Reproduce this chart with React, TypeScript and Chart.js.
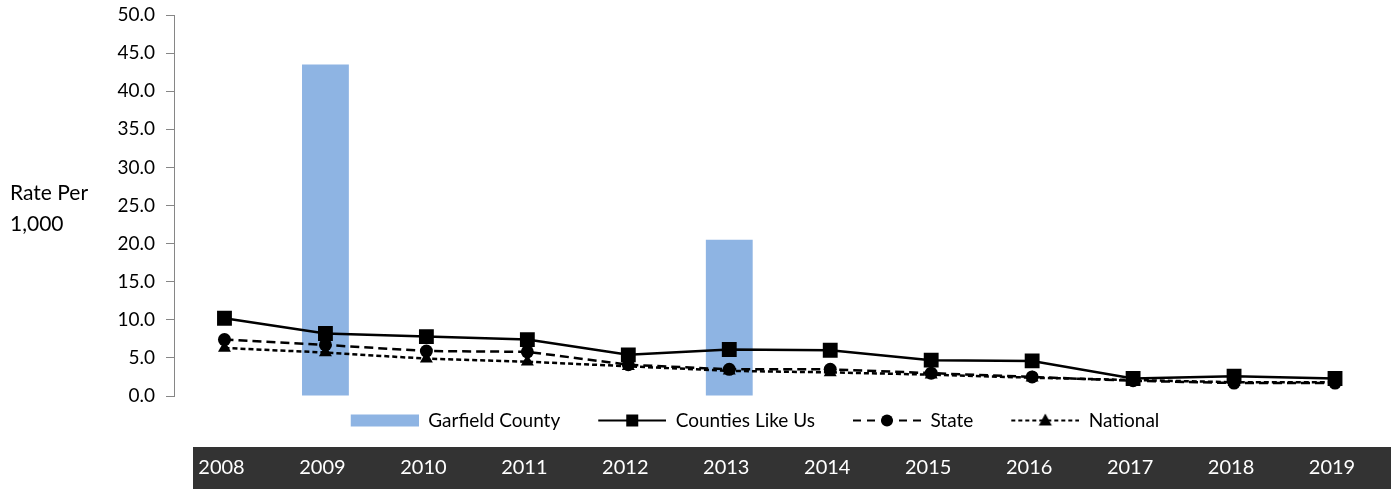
import React, { useEffect, useRef } from "react";
import { Chart, registerables } from "chart.js";

Chart.register(...registerables);

const years = ["2008", "2009", "2010", "2011", "2012", "2013", "2014", "2015", "2016", "2017", "2018", "2019"];
const garfieldCounty = [null, 43.5, null, null, null, 20.5, null, null, null, null, null, null];
const countiesLikeUs = [10.2, 8.2, 7.8, 7.4, 5.4, 6.1, 6.0, 4.7, 4.6, 2.3, 2.6, 2.3];
const stateRate = [7.4, 6.7, 5.9, 5.8, 4.1, 3.5, 3.5, 3.0, 2.5, 2.0, 1.7, 1.7];
const nationalRate = [6.3, 5.7, 4.9, 4.5, 3.9, 3.3, 3.1, 2.8, 2.4, 2.1, 1.8, 1.8];
const yTicks = [0, 5, 10, 15, 20, 25, 30, 35, 40, 45, 50];
const yTitleLines = ["Rate Per", "1,000"];

const FONT = "Lato, 'Open Sans', sans-serif";
const BAR_COLOR = "#8EB4E3";
const AXIS_COLOR = "#868686";
const BAND_COLOR = "#333333";

function legendSymbol(kind: string): HTMLCanvasElement {
  const c = document.createElement("canvas");
  const W = 91, H = 19, lead = 23, sw = 68;
  c.width = W; c.height = H;
  const ctx = c.getContext("2d")!;
  const cy = H / 2;
  const x0 = lead, x1 = lead + sw, cx = lead + sw / 2;
  if (kind === "bar") {
    ctx.fillStyle = BAR_COLOR;
    ctx.fillRect(x0, cy - 6, sw, 12);
    return c;
  }
  ctx.strokeStyle = "#000";
  ctx.fillStyle = "#000";
  ctx.lineWidth = 2;
  if (kind === "state") ctx.setLineDash([8, 6]);
  if (kind === "national") ctx.setLineDash([4, 3]);
  ctx.beginPath();
  ctx.moveTo(x0, cy); ctx.lineTo(cx, cy);
  ctx.stroke();
  ctx.beginPath();
  ctx.moveTo(x1, cy); ctx.lineTo(cx, cy);
  ctx.stroke();
  ctx.setLineDash([]);
  ctx.beginPath();
  if (kind === "counties") {
    ctx.rect(cx - 6, cy - 6, 12, 12);
  } else if (kind === "state") {
    ctx.arc(cx, cy, 6, 0, Math.PI * 2);
  } else {
    ctx.moveTo(cx, cy - 7);
    ctx.lineTo(cx + 6.5, cy + 5);
    ctx.lineTo(cx - 6.5, cy + 5);
    ctx.closePath();
  }
  ctx.fill();
  return c;
}

const decorPlugin = {
  id: "decor",
  afterDraw(chart: any) {
    const ctx = chart.ctx;
    const xs = chart.scales.x;
    ctx.save();
    // y axis title
    ctx.fillStyle = "#000";
    ctx.font = `21px ${FONT}`;
    ctx.textAlign = "left";
    ctx.textBaseline = "middle";
    ctx.fillText(yTitleLines[0], 10, 193);
    ctx.fillText(yTitleLines[1], 10, 224);
    // band with year labels
    ctx.fillStyle = BAND_COLOR;
    ctx.fillRect(193, 447, chart.width - 5 - 193, chart.height - 447);
    ctx.fillStyle = "#ffffff";
    ctx.font = `20px ${FONT}`;
    ctx.textAlign = "center";
    years.forEach((y, i) => {
      ctx.fillText(y, xs.getPixelForValue(i) - 3, 468);
    });
    ctx.restore();
  },
};

export default function App() {
  const ref = useRef<HTMLCanvasElement | null>(null);
  useEffect(() => {
    if (!ref.current) return;
    const symbols = {
      bar: legendSymbol("bar"),
      counties: legendSymbol("counties"),
      state: legendSymbol("state"),
      national: legendSymbol("national"),
    };
    const chart = new Chart(ref.current, {
      type: "bar",
      data: {
        labels: years,
        datasets: [
          {
            type: "bar",
            label: "Garfield County",
            data: garfieldCounty as any,
            backgroundColor: BAR_COLOR,
            barPercentage: 0.464,
            categoryPercentage: 1,
            order: 4,
          },
          {
            type: "line",
            label: "Counties Like Us",
            data: countiesLikeUs,
            borderColor: "#000",
            backgroundColor: "#000",
            borderWidth: 2.5,
            pointStyle: "rect",
            pointRadius: 10.5,
            pointBorderWidth: 0,
            pointBackgroundColor: "#000",
            tension: 0,
            order: 1,
          },
          {
            type: "line",
            label: "State",
            data: stateRate,
            borderColor: "#000",
            backgroundColor: "#000",
            borderWidth: 2.5,
            borderDash: [9, 5],
            pointStyle: "circle",
            pointRadius: 6.5,
            pointBorderWidth: 0,
            pointBackgroundColor: "#000",
            tension: 0,
            order: 2,
          },
          {
            type: "line",
            label: "National",
            data: nationalRate,
            borderColor: "#000",
            backgroundColor: "#000",
            borderWidth: 2.5,
            borderDash: [5, 3],
            pointStyle: "triangle",
            pointRadius: 7.5,
            pointBorderWidth: 0,
            pointBackgroundColor: "#000",
            tension: 0,
            order: 3,
          },
        ],
      },
      options: {
        animation: false,
        responsive: true,
        maintainAspectRatio: false,
        events: [],
        layout: { padding: { left: 98, right: 7, top: 15, bottom: 49 } },
        scales: {
          x: {
            display: false,
            offset: true,
            grid: { offset: true },
          },
          y: {
            min: 0,
            max: 50,
            afterBuildTicks: (scale: any) => {
              scale.ticks = yTicks.map((v) => ({ value: v }));
            },
            afterFit: (scale: any) => {
              scale.width = 76;
              scale.paddingTop = 0;
              scale.paddingBottom = 0;
            },
            ticks: {
              callback: (v: any) => Number(v).toFixed(1),
              color: "#000",
              font: { family: FONT, size: 19 },
              padding: 11,
            },
            grid: {
              drawOnChartArea: false,
              drawTicks: true,
              tickLength: 8,
              color: AXIS_COLOR,
              lineWidth: 1,
            },
            border: { display: true, color: AXIS_COLOR, width: 1 },
          },
        },
        plugins: {
          tooltip: { enabled: false },
          legend: {
            position: "bottom",
            align: "center",
            labels: {
              usePointStyle: true,
              pointStyleWidth: 91,
              boxHeight: 19,
              padding: 15,
              color: "#000",
              font: { family: FONT, size: 19 },
              generateLabels: () => [
                { text: "Garfield County", pointStyle: symbols.bar, fillStyle: BAR_COLOR, strokeStyle: BAR_COLOR, lineWidth: 0, hidden: false, datasetIndex: 0 },
                { text: "Counties Like Us", pointStyle: symbols.counties, fillStyle: "#000", strokeStyle: "#000", lineWidth: 0, hidden: false, datasetIndex: 1 },
                { text: "State", pointStyle: symbols.state, fillStyle: "#000", strokeStyle: "#000", lineWidth: 0, hidden: false, datasetIndex: 2 },
                { text: "National", pointStyle: symbols.national, fillStyle: "#000", strokeStyle: "#000", lineWidth: 0, hidden: false, datasetIndex: 3 },
              ] as any,
            },
          },
        },
      },
      plugins: [decorPlugin],
    } as any);
    return () => chart.destroy();
  }, []);
  return (
    <div style={{ position: "absolute", left: 0, top: 0, width: 1396, height: 489 }}>
      <canvas ref={ref} />
    </div>
  );
}
